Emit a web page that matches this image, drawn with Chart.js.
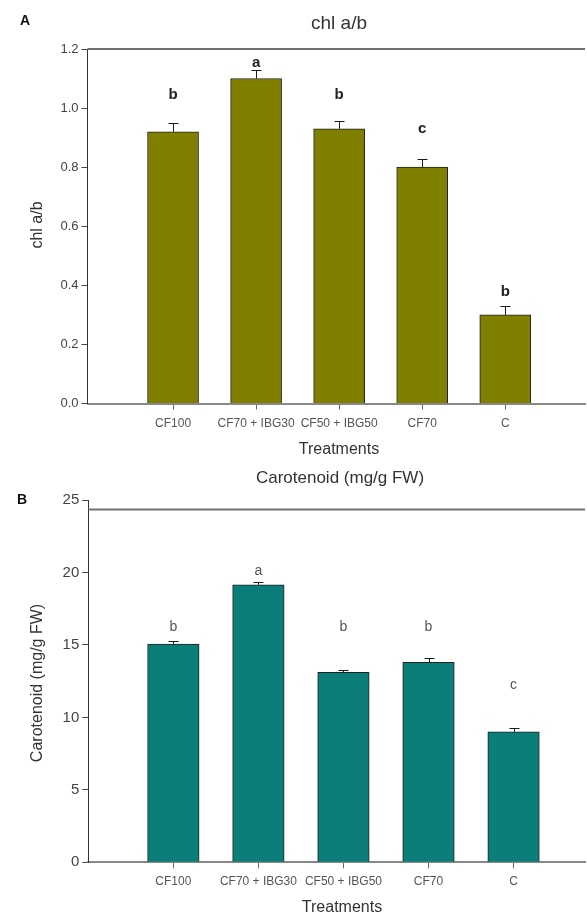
<!DOCTYPE html>
<html lang="en">
<head>
    <meta charset="UTF-8">
    <title>chl a/b and Carotenoid by treatment</title>
    <script src="https://cdn.jsdelivr.net/npm/chart.js"></script>
    <style>
        body {
            margin: 0;
            background: white;
            font-family: Arial, "Liberation Sans", sans-serif;
        }
        #figure {
            position: relative;
            width: 587px;
            height: 915px;
        }
        canvas {
            position: absolute;
            left: 0;
            display: block;
        }
        #chlChart { top: 0; }
        #carChart { top: 465px; }
    </style>
</head>
<body>
    <div id="figure">
        <canvas id="chlChart" width="587" height="465"></canvas>
        <canvas id="carChart" width="587" height="450"></canvas>
    </div>

    <script>
        // treatments on the x axis (same for both panels)
        const treatments = ['CF100', 'CF70 + IBG30', 'CF50 + IBG50', 'CF70', 'C'];

        // panel A - chl a/b
        const chlMeans = [0.92, 1.10, 0.93, 0.80, 0.30];
        const chlErrors = [0.03, 0.03, 0.027, 0.026, 0.03];
        const chlLetters = ['b', 'a', 'b', 'c', 'b'];
        const chlLetterY = [1.046, 1.154, 1.046, 0.931, 0.378];
        const chlFrameLine = 1.2;

        // panel B - carotenoid (mg/g FW)
        const carMeans = [15.05, 19.15, 13.1, 13.8, 9.0];
        const carErrors = [0.25, 0.18, 0.2, 0.28, 0.3];
        const carLetters = ['b', 'a', 'b', 'b', 'c'];
        const carLetterY = [16.2, 20.1, 16.2, 16.2, 12.2];
        const carFrameLine = 24.35;

        const FONT = 'Arial, "Liberation Sans", sans-serif';

        // error bars (upper half only), significance letters and the loose texts
        const annotate = {
            id: 'annotate',
            afterDatasetsDraw(chart, args, o) {
                const ctx = chart.ctx;
                const xs = chart.scales.x;
                const ys = chart.scales.y;
                ctx.save();

                ctx.strokeStyle = '#1a1a1a';
                ctx.lineWidth = 1;
                o.means.forEach((m, i) => {
                    const px = Math.round(xs.getPixelForValue(i + 1)) + 0.5;
                    const y0 = ys.getPixelForValue(m);
                    const y1 = Math.round(ys.getPixelForValue(m + o.errors[i])) + 0.5;
                    ctx.beginPath();
                    ctx.moveTo(px, y0);
                    ctx.lineTo(px, y1);
                    ctx.moveTo(px - 5, y1);
                    ctx.lineTo(px + 5, y1);
                    ctx.stroke();
                });

                ctx.fillStyle = o.letterColor;
                ctx.font = o.letterFont;
                ctx.textAlign = 'center';
                ctx.textBaseline = 'middle';
                o.letters.forEach((l, i) => {
                    ctx.fillText(l, xs.getPixelForValue(i + 1), ys.getPixelForValue(o.letterY[i]));
                });

                o.texts.forEach(t => {
                    ctx.save();
                    ctx.translate(t.x, t.y);
                    if (t.rotate) ctx.rotate(-Math.PI / 2);
                    ctx.font = t.font;
                    ctx.fillStyle = t.color;
                    ctx.textAlign = t.align || 'center';
                    ctx.textBaseline = 'middle';
                    ctx.fillText(t.text, 0, 0);
                    ctx.restore();
                });
                ctx.restore();
            }
        };

        function barPanel(canvasId, cfg) {
            const xMin = cfg.xMin;
            const xMax = cfg.xMax;
            return new Chart(document.getElementById(canvasId), {
                type: 'bar',
                data: {
                    datasets: [
                        {
                            label: cfg.label,
                            data: cfg.means.map((v, i) => ({ x: i + 1, y: v })),
                            backgroundColor: cfg.color,
                            borderColor: '#222',
                            borderWidth: 1,
                            barThickness: cfg.barWidth,
                        },
                        {
                            type: 'line',
                            label: 'frame',
                            data: [{ x: xMin, y: cfg.frameLine }, { x: xMax, y: cfg.frameLine }],
                            borderColor: '#707070',
                            borderWidth: 2,
                            pointRadius: 0,
                            clip: false,
                        },
                    ],
                },
                options: {
                    responsive: false,
                    animation: false,
                    devicePixelRatio: 1,
                    layout: {
                        padding: { top: cfg.top, right: 2, left: 0, bottom: 0 },
                    },
                    plugins: {
                        legend: { display: false },
                        tooltip: { enabled: false },
                        annotate: {
                            means: cfg.means,
                            errors: cfg.errors,
                            letters: cfg.letters,
                            letterY: cfg.letterY,
                            letterFont: cfg.letterFont,
                            letterColor: cfg.letterColor,
                            texts: cfg.texts,
                        },
                    },
                    scales: {
                        x: {
                            type: 'linear',
                            min: xMin,
                            max: xMax,
                            offset: false,
                            afterBuildTicks: s => {
                                s.ticks = treatments.map((_, i) => ({ value: i + 1 }));
                            },
                            afterFit: s => { s.height = cfg.xHeight; },
                            ticks: {
                                callback: v => treatments[Math.round(v) - 1],
                                autoSkip: false,
                                maxRotation: 0,
                                font: { family: FONT, size: 12 },
                                color: '#555',
                                padding: cfg.xLabelPad,
                            },
                            grid: { offset: false, drawOnChartArea: false, tickLength: 6, tickColor: '#666' },
                            border: { color: '#888', width: 2 },
                        },
                        y: {
                            min: 0,
                            max: cfg.yMax,
                            afterFit: s => { s.width = cfg.yWidth; },
                            ticks: {
                                stepSize: cfg.yStep,
                                callback: cfg.yFormat,
                                font: { family: FONT, size: cfg.yTickSize },
                                color: '#444',
                                padding: 3,
                            },
                            grid: { drawOnChartArea: false, tickLength: 6, tickColor: '#444' },
                            border: { color: '#333', width: 1 },
                        },
                    },
                },
                plugins: [annotate],
            });
        }

        barPanel('chlChart', {
            label: 'chl a/b',
            means: chlMeans,
            errors: chlErrors,
            letters: chlLetters,
            letterY: chlLetterY,
            frameLine: chlFrameLine,
            color: '#808000',
            barWidth: 51,
            xMin: -0.03,
            xMax: 5.96,
            yMax: 1.2,
            yStep: 0.2,
            yFormat: v => v.toFixed(1),
            yTickSize: 13,
            yWidth: 87.5,
            xHeight: 61.5,
            xLabelPad: 7,
            top: 49,
            letterFont: 'bold 15px ' + FONT,
            letterColor: '#222',
            texts: [
                { text: 'A', x: 25, y: 21, font: 'bold 14px ' + FONT, color: '#111' },
                { text: 'chl a/b', x: 339, y: 24, font: '19px ' + FONT, color: '#333' },
                { text: 'chl a/b', x: 38, y: 225, font: '16px ' + FONT, color: '#333', rotate: true },
                { text: 'Treatments', x: 339, y: 450, font: '16px ' + FONT, color: '#333' },
            ],
        });

        barPanel('carChart', {
            label: 'Carotenoid (mg/g FW)',
            means: carMeans,
            errors: carErrors,
            letters: carLetters,
            letterY: carLetterY,
            frameLine: carFrameLine,
            color: '#0b7e7a',
            barWidth: 51.5,
            xMin: 0,
            xMax: 5.84,
            yMax: 25,
            yStep: 5,
            yFormat: v => v,
            yTickSize: 15,
            yWidth: 88.3,
            xHeight: 52.7,
            xLabelPad: 6,
            top: 35,
            letterFont: '14px ' + FONT,
            letterColor: '#555',
            texts: [
                { text: 'B', x: 22, y: 35, font: 'bold 14px ' + FONT, color: '#111' },
                { text: 'Carotenoid (mg/g FW)', x: 340, y: 13, font: '17px ' + FONT, color: '#333' },
                { text: 'Carotenoid (mg/g FW)', x: 38, y: 218, font: '16px ' + FONT, color: '#333', rotate: true },
                { text: 'Treatments', x: 342, y: 443, font: '16px ' + FONT, color: '#333' },
            ],
        });
    </script>
</body>
</html>
